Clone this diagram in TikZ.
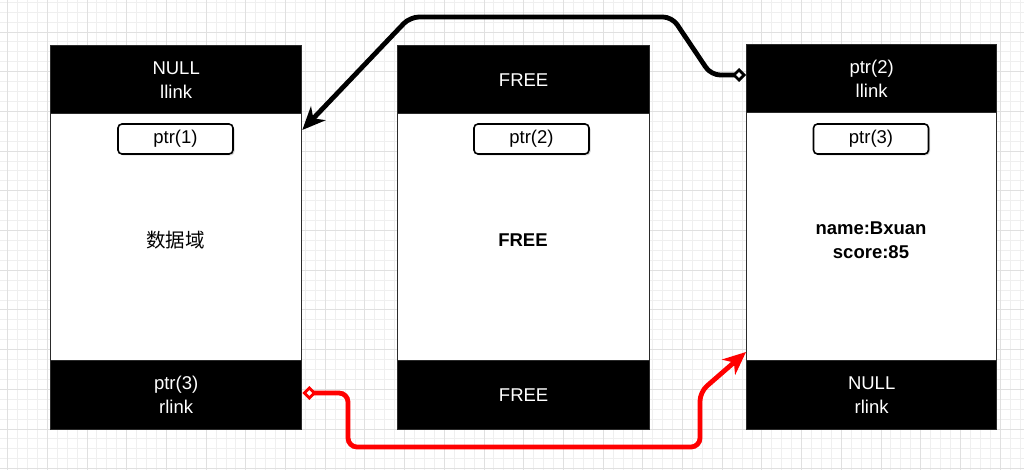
\documentclass[tikz,border=0pt]{standalone}
\usepackage{fontspec}
\setmainfont{Liberation Sans}
\newfontfamily\cjk{Noto Sans CJK SC}
\usetikzlibrary{arrows.meta,shadows}
\definecolor{gridminor}{HTML}{EFEFEF}
\definecolor{gridmajor}{HTML}{E0E0E0}
\definecolor{edgecol}{HTML}{2A2A2A}
\definecolor{redline}{HTML}{FF0000}
\begin{document}
\begin{tikzpicture}[x=1pt,y=-1pt,
  cellbase/.style={draw=edgecol,line width=1.3pt,inner sep=0pt,anchor=north west},
  headbox/.style={cellbase,fill=black,text=white,align=center,font=\fontsize{18.5}{24}\selectfont},
  bodybox/.style={cellbase,fill=white,align=center,font=\fontsize{18.5}{24}\selectfont\bfseries},
  ptrbox/.style={draw=black,line width=1.6pt,fill=white,rounded corners=4pt,minimum width=115pt,minimum height=30pt,inner sep=0pt,font=\fontsize{18.5}{22}\selectfont,drop shadow={shadow xshift=1.5pt,shadow yshift=-1.5pt,opacity=0.35}},
  linkline/.style={line width=4.8pt,rounded corners=9pt},
]
\useasboundingbox (0,0) rectangle (1024,470);
\fill[white] (0,0) rectangle (1024,470);
% grid
\begin{scope}
\clip (0,0) rectangle (1024,470);
\foreach \i in {0,...,103} \draw[gridminor,line width=0.9pt] ({7.6+9.925*\i},0) -- ++(0,470);
\foreach \j in {0,...,47} \draw[gridminor,line width=0.9pt] (0,{2.2+9.925*\j}) -- ++(1024,0);
\foreach \i in {0,...,25} \draw[gridmajor,line width=0.9pt] ({7.6+39.7*\i},0) -- ++(0,470);
\foreach \j in {0,...,11} \draw[gridmajor,line width=0.9pt] (0,{32+39.7*\j}) -- ++(1024,0);
\end{scope}

% left column
\node[bodybox,minimum width=251pt,minimum height=247pt] (lbody) at (50,113) {};
\node[headbox,minimum width=251pt,minimum height=68pt] (lhead) at (50,45) {NULL\\llink};
\node[headbox,minimum width=251pt,minimum height=69pt] (lfoot) at (50,360) {ptr(3)\\rlink};
\node[ptrbox] (lptr) at (175.5,139) {ptr(1)};
\node[font=\fontsize{19.5}{24}\selectfont\cjk] (ldata) at (175.5,240) {数据域};

% middle column
\node[bodybox,minimum width=252pt,minimum height=247pt] (mbody) at (397,113) {};
\node[headbox,minimum width=252pt,minimum height=68pt] (mhead) at (397,45) {FREE};
\node[headbox,minimum width=252pt,minimum height=69pt] (mfoot) at (397,360) {FREE};
\node[ptrbox] (mptr) at (531.5,139) {ptr(2)};
\node[font=\fontsize{18.5}{24}\selectfont\bfseries] (mdata) at (523,240) {FREE};

% right column
\node[bodybox,minimum width=250pt,minimum height=248pt] (rbody) at (746,112) {};
\node[headbox,minimum width=250pt,minimum height=68pt] (rhead) at (746,44) {ptr(2)\\llink};
\node[headbox,minimum width=250pt,minimum height=69pt] (rfoot) at (746,360) {NULL\\rlink};
\node[ptrbox] (rptr) at (871,139) {ptr(3)};
\node[font=\fontsize{18.5}{24}\selectfont\bfseries,align=center] (rdata) at (871,240) {name:Bxuan\\score:85};

% black link: right llink -> left node
\draw[linkline,black,
  {Diamond[length=14pt,width=14pt,fill=white,line width=2.8pt]}-{Stealth[length=23pt,width=20pt,inset=7pt]}]
  (rhead.west |- 0,75) -- (711,75) -- (672,17) -- (410,17) -- (lbody.east |- 0,130);

% red link: left rlink -> right node
\draw[linkline,redline,
  {Diamond[length=14pt,width=14pt,fill=white,line width=2.8pt]}-{Stealth[length=23pt,width=20pt,inset=7pt]}]
  (lfoot.east |- 0,393) -- (348,393) -- (348,447) -- (700,447) -- (700,392) -- (rbody.west |- 0,352);
\end{tikzpicture}
\end{document}
